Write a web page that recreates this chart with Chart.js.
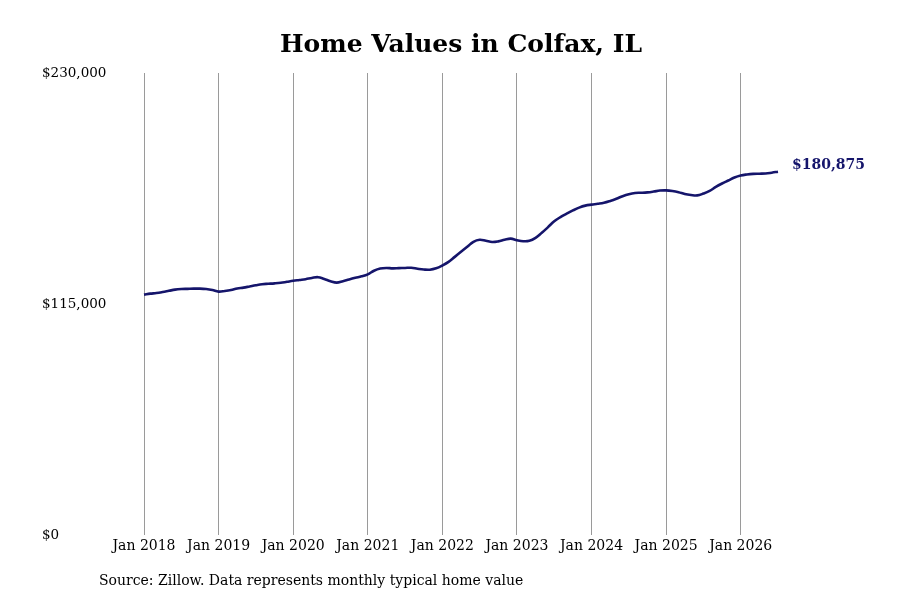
<!DOCTYPE html>
<html>
<head>
<meta charset="utf-8">
<script src="https://cdn.jsdelivr.net/npm/chart.js@4.4.1/dist/chart.umd.min.js"></script>
<style>
  html, body { margin: 0; padding: 0; background: #fff; }
  #wrap { width: 900px; height: 600px; position: relative; }
</style>
</head>
<body>
<div id="wrap"><canvas id="myChart"></canvas></div>
<script>
// monthly typical home value, Jan 2018 .. Jul 2026
var years = [2018, 2019, 2020, 2021, 2022, 2023, 2024, 2025, 2026]
var monthNames = ['Jan','Feb','Mar','Apr','May','Jun','Jul','Aug','Sep','Oct','Nov','Dec']
var homeValues = [
  119700, 120200, 120500, 121000, 121600, 122200, 122500, 122600, 122700, 122700, 122500, 122000,
  121200, 121500, 122000, 122800, 123200, 123800, 124400, 124900, 125100, 125300, 125600, 126100,
  126600, 127000, 127400, 128000, 128400, 127500, 126400, 125700, 126400, 127300, 128100, 128800,
  129800, 131600, 132700, 133000, 132800, 132900, 133000, 133100, 132600, 132200, 132100, 132800,
  134200, 136000, 138500, 141000, 143500, 146000, 147000, 146500, 145900, 146200, 147000, 147600,
  146800, 146300, 146500, 148000, 150500, 153300, 156200, 158300, 160000, 161600, 163000, 164000,
  164500, 164900, 165400, 166300, 167400, 168700, 169700, 170300, 170400, 170600, 171000, 171500,
  171600, 171300, 170700, 169800, 169300, 169100, 170000, 171300, 173300, 175000, 176500, 178000,
  179000, 179500, 179800, 179900, 180000, 180400, 180875
]
var yTicks = [0, 115000, 230000]
var lineColor = '#15156b'
var font = "'DejaVu Serif', serif"

var labels = []
years.forEach(function (y) {
  monthNames.forEach(function (m) { labels.push(m + ' ' + y) })
})
labels = labels.slice(0, homeValues.length)

function money(v) {
  return '$' + v.toLocaleString('en-US')
}

// title, end value and source line
var extras = {
  id: 'extras',
  afterDraw: function (chart) {
    var c = chart.ctx
    var meta = chart.getDatasetMeta(0)
    var last = meta.data[meta.data.length - 1]
    c.save()
    c.textBaseline = 'middle'
    c.fillStyle = '#000'
    c.font = 'bold 25px ' + font
    c.textAlign = 'center'
    c.fillText('Home Values in Colfax, IL', 461, 45)
    c.fillStyle = lineColor
    c.font = 'bold 14px ' + font
    c.textAlign = 'left'
    c.fillText(money(homeValues[homeValues.length - 1]), last.x + 14, last.y - 6)
    c.fillStyle = '#000'
    c.font = '14px ' + font
    c.fillText('Source: Zillow. Data represents monthly typical home value', 99, 581)
    c.restore()
  }
}

var ctx = document.getElementById('myChart')
var myChart = new Chart(ctx, {
  type: 'line',
  data: {
    labels: labels,
    datasets: [{
      data: homeValues,
      borderColor: lineColor,
      borderWidth: 2.6,
      pointRadius: 0,
      tension: 0.4,
      fill: false
    }]
  },
  options: {
    responsive: true,
    maintainAspectRatio: false,
    animation: false,
    devicePixelRatio: 1,
    layout: { padding: { left: 42, right: 122, top: 73, bottom: 42 } },
    plugins: {
      legend: { display: false },
      tooltip: { enabled: false },
      title: { display: false }
    },
    scales: {
      x: {
        offset: false,
        border: { display: false },
        grid: { color: '#9a9a9a', lineWidth: 1, drawTicks: false },
        ticks: {
          autoSkip: false,
          maxRotation: 0,
          padding: 3,
          color: '#000',
          font: { family: font, size: 14 },
          callback: function (v, i) {
            return i % 12 === 0 ? labels[i] : null
          }
        }
      },
      y: {
        min: 0,
        max: 230000,
        border: { display: false },
        grid: { display: false },
        afterFit: function (scale) { scale.width = 102 },
        afterBuildTicks: function (scale) {
          scale.ticks = yTicks.map(function (v) { return { value: v } })
        },
        ticks: {
          crossAlign: 'far',
          color: '#000',
          font: { family: font, size: 13.5 },
          callback: function (v) { return money(v) }
        }
      }
    }
  },
  plugins: [extras]
})
</script>
</body>
</html>
